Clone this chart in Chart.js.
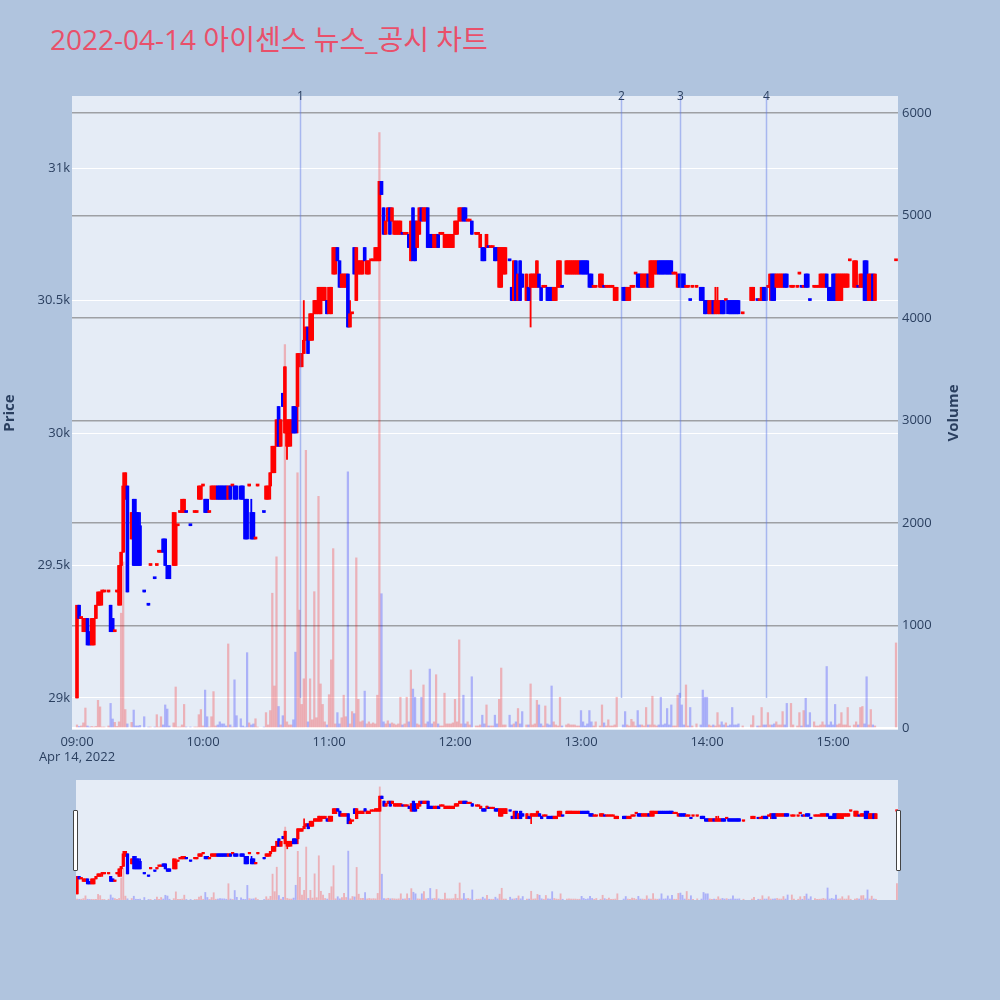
<!DOCTYPE html>
<html>
<head>
<meta charset="utf-8">
<script src="https://cdn.jsdelivr.net/npm/chart.js@4.4.1/dist/chart.umd.min.js"></script>
<style>
  body { margin: 0; background: #b0c4de; width: 1000px; height: 1000px; position: relative; overflow: hidden; }
  #title { position: absolute; left: 50px; top: 20px; font: 28px "Open Sans", "Noto Sans CJK KR", sans-serif; line-height: 38px; color: #e9506a; white-space: nowrap; }
  #main { position: absolute; left: 0; top: 0; }
  #slider { position: absolute; left: 76px; top: 780px; }
  .handle { position: absolute; top: 810px; width: 3px; height: 59px; background: #fff; border: 1px solid #444; border-radius: 1px; }
</style>
</head>
<body>
<div id="title">2022-04-14 아이센스 뉴스_공시 차트</div>
<canvas id="main" width="1000" height="775"></canvas>
<canvas id="slider" width="822" height="120"></canvas>
<div class="handle" style="left:73px"></div>
<div class="handle" style="left:896px"></div>
<script>
// minute candles: [time, open, high, low, close, volume]
const hour09 = [
  ['09:00',29000,29350,29000,29350,30], ['09:01',29350,29350,29300,29300,15], ['09:02',29300,29300,29300,29300,20],
  ['09:03',29250,29300,29250,29300,50], ['09:04',29250,29300,29250,29300,195], ['09:05',29300,29300,29200,29200,20],
  ['09:06',29250,29250,29200,29200,10], ['09:07',29200,29300,29200,29300,15], ['09:08',29200,29300,29200,29300,10],
  ['09:09',29300,29350,29300,29350,15], ['09:10',29350,29400,29350,29400,270], ['09:11',29350,29400,29350,29400,206],
  ['09:12',29400,29400,29350,29400,10], ['09:13',29400,29400,29400,29400,10], ['09:15',29400,29400,29400,29400,20],
  ['09:16',29350,29350,29250,29250,240], ['09:17',29300,29300,29250,29250,88], ['09:18',29250,29250,29250,29250,55],
  ['09:19',29400,29400,29400,29400,15], ['09:20',29350,29500,29350,29500,60], ['09:21',29500,29550,29350,29550,1120],
  ['09:22',29550,29850,29550,29800,1620], ['09:23',29750,29850,29750,29850,180], ['09:24',29800,29800,29400,29400,40],
  ['09:26',29600,29700,29600,29700,55], ['09:27',29750,29750,29500,29500,175], ['09:28',29700,29750,29500,29500,20],
  ['09:29',29700,29700,29500,29500,20], ['09:30',29650,29700,29500,29500,25], ['09:32',29400,29400,29400,29400,110],
  ['09:34',29350,29350,29350,29350,10], ['09:35',29500,29500,29500,29500,10], ['09:37',29450,29450,29450,29450,10],
  ['09:38',29500,29500,29500,29500,130], ['09:39',29550,29550,29550,29550,10], ['09:40',29550,29550,29550,29550,110],
  ['09:41',29600,29600,29550,29550,30], ['09:42',29600,29600,29500,29500,225], ['09:43',29500,29500,29450,29450,185],
  ['09:44',29500,29500,29450,29450,20], ['09:46',29500,29700,29500,29700,50], ['09:47',29500,29700,29500,29650,400],
  ['09:48',29650,29650,29650,29650,10], ['09:49',29700,29700,29700,29700,10], ['09:50',29700,29750,29700,29750,30],
  ['09:51',29700,29750,29700,29750,230], ['09:52',29700,29700,29700,29700,10], ['09:54',29650,29650,29650,29650,10],
  ['09:56',29700,29700,29700,29700,10], ['09:57',29700,29700,29700,29700,10], ['09:58',29750,29800,29750,29800,130],
  ['09:59',29750,29800,29750,29800,180]
];
const hour10 = [
  ['10:00',29800,29800,29800,29800,20], ['10:01',29750,29750,29700,29700,370], ['10:02',29750,29750,29700,29700,110],
  ['10:03',29700,29700,29700,29700,10], ['10:04',29750,29800,29750,29800,110], ['10:05',29750,29800,29750,29800,355],
  ['10:06',29750,29800,29750,29800,20], ['10:07',29800,29800,29750,29750,30], ['10:08',29800,29800,29750,29750,60],
  ['10:09',29800,29800,29750,29750,40], ['10:10',29800,29800,29750,29750,40], ['10:11',29800,29800,29750,29750,20],
  ['10:12',29750,29800,29750,29800,820], ['10:13',29800,29800,29750,29750,30], ['10:14',29800,29800,29800,29800,10],
  ['10:15',29800,29800,29750,29750,470], ['10:16',29800,29800,29750,29750,120], ['10:18',29800,29800,29750,29750,90],
  ['10:19',29800,29800,29750,29750,20], ['10:20',29750,29750,29600,29600,10], ['10:21',29750,29750,29600,29600,735],
  ['10:22',29800,29800,29800,29800,50], ['10:23',29700,29750,29600,29600,30], ['10:24',29700,29700,29600,29600,40],
  ['10:25',29600,29600,29600,29600,90], ['10:26',29800,29800,29800,29800,10], ['10:29',29700,29700,29700,29700,10],
  ['10:30',29750,29800,29750,29800,150], ['10:31',29750,29800,29750,29800,30], ['10:32',29800,29850,29750,29850,170],
  ['10:33',29850,29950,29850,29950,1315], ['10:34',29850,29950,29850,29950,410], ['10:35',29950,30050,29950,30050,1670],
  ['10:36',30100,30100,29950,29950,210], ['10:37',29950,30050,29950,30050,30], ['10:38',30150,30150,30100,30100,120],
  ['10:39',30000,30250,30000,30250,3740], ['10:40',29950,30050,29900,30050,60], ['10:41',29950,30050,29950,30050,30],
  ['10:42',30000,30050,29950,30050,30], ['10:43',30100,30100,30000,30000,80], ['10:44',30100,30100,30000,30000,740],
  ['10:45',30100,30300,30000,30300,2490], ['10:46',30250,30300,30250,30300,1150], ['10:47',30250,30300,30250,30300,230],
  ['10:48',30300,30500,30300,30350,480], ['10:49',30350,30400,30350,30400,2710], ['10:50',30400,30400,30300,30300,60],
  ['10:51',30350,30450,30350,30450,480], ['10:52',30350,30450,30350,30450,80], ['10:53',30450,30500,30450,30500,1330],
  ['10:54',30450,30500,30450,30500,100], ['10:55',30450,30550,30450,30550,2260], ['10:56',30450,30550,30450,30550,430],
  ['10:57',30500,30550,30500,30550,230], ['10:58',30500,30550,30500,30550,60], ['10:59',30500,30500,30450,30450,30]
];
const hour11 = [
  ['11:00',30450,30550,30450,30550,325], ['11:01',30450,30550,30450,30550,665], ['11:02',30600,30700,30600,30700,1750],
  ['11:03',30600,30700,30600,30700,40], ['11:04',30700,30700,30650,30650,150], ['11:05',30650,30650,30550,30550,40],
  ['11:06',30550,30600,30550,30600,100], ['11:07',30550,30600,30550,30600,320], ['11:08',30550,30600,30550,30600,110],
  ['11:09',30600,30600,30400,30400,2500], ['11:10',30400,30500,30400,30450,40], ['11:11',30450,30450,30450,30450,160],
  ['11:12',30700,30700,30600,30600,140], ['11:13',30500,30700,30500,30700,1660], ['11:14',30600,30650,30600,30650,280],
  ['11:15',30600,30650,30600,30650,60], ['11:16',30600,30650,30600,30650,70], ['11:17',30700,30700,30650,30650,360],
  ['11:18',30600,30650,30600,30650,40], ['11:19',30600,30650,30600,30650,60], ['11:20',30650,30650,30650,30650,40],
  ['11:21',30650,30650,30650,30650,50], ['11:22',30650,30700,30650,30700,40], ['11:23',30650,30700,30650,30700,320],
  ['11:24',30650,30950,30650,30950,5810], ['11:25',30950,30950,30900,30900,1310], ['11:26',30850,30850,30750,30750,60],
  ['11:27',30750,30800,30750,30800,40], ['11:28',30800,30850,30800,30850,70], ['11:29',30850,30850,30750,30750,40],
  ['11:30',30800,30850,30800,30850,50], ['11:31',30750,30800,30750,30800,40], ['11:32',30750,30800,30750,30800,30],
  ['11:33',30750,30800,30750,30800,40], ['11:34',30750,30800,30750,30800,300], ['11:35',30750,30750,30750,30750,30],
  ['11:36',30750,30750,30750,30750,40], ['11:37',30750,30750,30750,30750,300], ['11:38',30750,30750,30700,30700,60],
  ['11:39',30650,30800,30650,30800,566], ['11:40',30850,30850,30650,30650,380], ['11:41',30800,30800,30650,30650,300],
  ['11:42',30700,30800,30700,30800,40], ['11:43',30750,30850,30750,30850,30], ['11:44',30850,30850,30800,30800,300],
  ['11:45',30800,30850,30800,30850,420], ['11:46',30800,30850,30800,30850,40], ['11:47',30850,30850,30700,30700,60],
  ['11:48',30750,30750,30700,30700,575], ['11:49',30750,30750,30700,30700,40], ['11:50',30700,30750,30700,30750,60],
  ['11:51',30700,30750,30700,30750,520], ['11:52',30750,30750,30700,30700,40], ['11:53',30750,30750,30750,30750,20],
  ['11:54',30750,30750,30750,30750,20], ['11:55',30700,30750,30700,30750,340], ['11:56',30700,30750,30700,30750,40],
  ['11:57',30700,30750,30700,30750,40], ['11:58',30700,30750,30700,30750,40], ['11:59',30700,30750,30700,30750,50]
];
const hour12 = [
  ['12:00',30750,30800,30750,30800,280], ['12:01',30750,30800,30750,30800,60], ['12:02',30800,30850,30800,30850,860],
  ['12:03',30800,30850,30800,30850,40], ['12:04',30850,30850,30800,30800,320], ['12:05',30850,30850,30800,30800,40],
  ['12:06',30800,30800,30800,30800,60], ['12:07',30800,30800,30800,30800,30], ['12:08',30800,30800,30750,30750,500],
  ['12:10',30750,30750,30750,30750,20], ['12:11',30750,30750,30750,30750,20], ['12:12',30700,30750,30700,30750,30],
  ['12:13',30700,30700,30650,30650,125], ['12:14',30700,30700,30650,30650,40], ['12:15',30700,30750,30700,30750,225],
  ['12:16',30700,30700,30700,30700,20], ['12:17',30700,30700,30700,30700,20], ['12:18',30700,30700,30700,30700,20],
  ['12:19',30700,30700,30650,30650,125], ['12:20',30700,30700,30650,30650,40], ['12:21',30550,30700,30550,30700,280],
  ['12:22',30550,30700,30550,30700,585], ['12:23',30600,30700,30600,30700,30], ['12:24',30600,30700,30600,30700,30],
  ['12:26',30650,30650,30650,30650,125], ['12:27',30550,30550,30500,30500,30], ['12:28',30500,30650,30500,30650,40],
  ['12:29',30650,30650,30500,30500,60], ['12:30',30500,30600,30500,30600,190], ['12:31',30650,30650,30500,30500,40],
  ['12:32',30600,30600,30550,30550,160], ['12:34',30500,30600,30500,30600,30], ['12:35',30550,30550,30500,30500,30],
  ['12:36',30550,30600,30400,30600,430], ['12:37',30550,30600,30550,30600,30], ['12:38',30550,30600,30550,30600,40],
  ['12:39',30550,30650,30550,30650,270], ['12:40',30600,30600,30550,30550,225], ['12:41',30550,30550,30500,30500,40],
  ['12:42',30550,30550,30550,30550,20], ['12:43',30550,30550,30550,30550,215], ['12:44',30550,30550,30500,30500,40],
  ['12:45',30550,30550,30500,30500,30], ['12:46',30550,30550,30500,30500,410], ['12:47',30500,30550,30500,30550,60],
  ['12:48',30500,30550,30500,30550,30], ['12:49',30550,30650,30550,30650,20], ['12:50',30550,30650,30550,30650,300],
  ['12:51',30550,30550,30550,30550,20], ['12:53',30600,30650,30600,30650,30], ['12:54',30600,30650,30600,30650,40],
  ['12:55',30600,30650,30600,30650,30], ['12:56',30600,30650,30600,30650,30], ['12:57',30600,30650,30600,30650,30],
  ['12:58',30600,30650,30600,30650,20], ['12:59',30600,30650,30600,30650,20]
];
const hour13 = [
  ['13:00',30650,30650,30600,30600,170], ['13:01',30650,30650,30600,30600,60], ['13:02',30650,30650,30600,30600,20],
  ['13:03',30650,30650,30600,30600,40], ['13:04',30600,30600,30550,30550,170], ['13:05',30600,30600,30550,30550,60],
  ['13:06',30550,30550,30550,30550,20], ['13:07',30550,30550,30550,30550,60], ['13:09',30550,30600,30550,30600,20],
  ['13:10',30550,30600,30550,30600,225], ['13:11',30550,30550,30550,30550,50], ['13:12',30550,30550,30550,30550,20],
  ['13:13',30550,30550,30550,30550,80], ['13:14',30550,30550,30550,30550,20], ['13:15',30550,30550,30550,30550,20],
  ['13:16',30500,30550,30500,30550,30], ['13:17',30500,30550,30500,30550,300], ['13:20',30550,30550,30500,30500,30],
  ['13:21',30550,30550,30500,30500,160], ['13:22',30500,30550,30500,30550,30], ['13:23',30500,30550,30500,30550,20],
  ['13:24',30550,30550,30550,30550,85], ['13:25',30550,30550,30550,30550,60], ['13:26',30600,30600,30600,30600,20],
  ['13:27',30600,30600,30550,30550,170], ['13:28',30600,30600,30550,30550,30], ['13:29',30550,30600,30550,30600,30],
  ['13:30',30550,30600,30550,30600,20], ['13:31',30550,30600,30550,30600,200], ['13:32',30600,30600,30550,30550,30],
  ['13:33',30550,30650,30550,30650,30], ['13:34',30550,30650,30550,30650,310], ['13:35',30600,30650,30600,30650,30],
  ['13:36',30600,30650,30600,30650,20], ['13:37',30650,30650,30600,30600,30], ['13:38',30650,30650,30600,30600,300],
  ['13:39',30650,30650,30600,30600,30], ['13:40',30650,30650,30600,30600,40], ['13:41',30650,30650,30600,30600,190],
  ['13:42',30650,30650,30600,30600,30], ['13:43',30650,30650,30600,30600,225], ['13:44',30600,30600,30600,30600,20],
  ['13:45',30600,30600,30600,30600,20], ['13:46',30550,30600,30550,30600,320], ['13:47',30600,30600,30550,30550,340],
  ['13:48',30600,30600,30550,30550,225], ['13:49',30600,30600,30550,30550,30], ['13:50',30550,30550,30550,30550,420],
  ['13:51',30550,30550,30550,30550,20], ['13:52',30500,30500,30500,30500,200], ['13:53',30550,30550,30550,30550,20],
  ['13:55',30550,30550,30550,30550,40], ['13:57',30550,30550,30500,30500,30], ['13:58',30550,30550,30500,30500,370],
  ['13:59',30500,30500,30450,30450,300]
];
const hour14 = [
  ['14:00',30500,30500,30450,30450,300], ['14:01',30450,30500,30450,30500,30], ['14:02',30450,30500,30450,30500,20],
  ['14:03',30500,30500,30450,30450,30], ['14:04',30450,30550,30450,30500,20], ['14:05',30450,30550,30450,30500,150],
  ['14:06',30450,30500,30450,30500,30], ['14:07',30500,30500,30450,30450,60], ['14:08',30500,30500,30450,30450,30],
  ['14:09',30500,30500,30500,30500,50], ['14:10',30500,30500,30450,30450,20], ['14:11',30500,30500,30450,30450,30],
  ['14:12',30500,30500,30450,30450,200], ['14:13',30500,30500,30450,30450,30], ['14:14',30500,30500,30450,30450,30],
  ['14:15',30500,30500,30450,30450,40], ['14:17',30450,30450,30450,30450,20], ['14:21',30500,30550,30500,30550,30],
  ['14:22',30500,30550,30500,30550,120], ['14:24',30500,30500,30500,30500,20], ['14:25',30500,30500,30500,30500,20],
  ['14:26',30500,30550,30500,30550,200], ['14:27',30550,30550,30500,30500,30], ['14:28',30550,30550,30500,30500,30],
  ['14:29',30550,30550,30550,30550,150], ['14:30',30550,30600,30500,30600,30], ['14:31',30600,30600,30500,30500,30],
  ['14:32',30600,30600,30500,30500,40], ['14:33',30550,30600,30550,30600,60], ['14:34',30550,30600,30550,30600,30],
  ['14:35',30550,30600,30550,30600,30], ['14:36',30550,30600,30550,30600,160], ['14:37',30600,30600,30550,30550,30],
  ['14:38',30600,30600,30550,30550,240], ['14:40',30550,30550,30550,30550,240], ['14:41',30550,30550,30550,30550,30],
  ['14:43',30550,30550,30550,30550,20], ['14:44',30600,30600,30600,30600,150], ['14:45',30550,30550,30550,30550,20],
  ['14:46',30550,30550,30550,30550,170], ['14:47',30600,30600,30550,30550,290], ['14:48',30600,30600,30550,30550,30],
  ['14:49',30500,30500,30500,30500,150], ['14:51',30550,30550,30550,30550,60], ['14:52',30550,30550,30550,30550,20],
  ['14:53',30550,30550,30550,30550,20], ['14:54',30550,30600,30550,30600,30], ['14:55',30550,30600,30550,30600,60],
  ['14:56',30550,30600,30550,30600,30], ['14:57',30600,30600,30550,30550,600], ['14:58',30550,30550,30500,30500,30],
  ['14:59',30550,30550,30500,30500,60]
];
const hour15 = [
  ['15:00',30600,30600,30500,30500,30], ['15:01',30600,30600,30500,30500,230], ['15:02',30500,30600,30500,30600,30],
  ['15:03',30500,30600,30500,30600,40], ['15:04',30500,30600,30500,30600,150], ['15:05',30550,30600,30550,30600,30],
  ['15:06',30550,30600,30550,30600,30], ['15:07',30550,30600,30550,30600,200], ['15:08',30650,30650,30650,30650,20],
  ['15:10',30550,30650,30550,30650,30], ['15:11',30550,30650,30550,30650,60], ['15:12',30550,30550,30550,30550,30],
  ['15:13',30550,30600,30550,30600,200], ['15:14',30550,30600,30550,30600,210], ['15:15',30650,30650,30500,30500,40],
  ['15:16',30650,30650,30500,30500,500], ['15:17',30500,30600,30500,30600,30], ['15:18',30500,30600,30500,30600,180],
  ['15:19',30600,30600,30500,30500,30], ['15:20',30500,30600,30500,30600,20], ['15:30',30650,30650,30650,30650,830]
];

// news markers
const newsTimes = ['10:46', '13:19', '13:47', '14:28'];
const newsLabels = ['1', '2', '3', '4'];
const newsFloor = 29000;

// axis ticks
const timeTicks = ['09:00', '10:00', '11:00', '12:00', '13:00', '14:00', '15:00'];
const dateLabel = 'Apr 14, 2022';
const priceTicks = [29000, 29500, 30000, 30500, 31000];
const volumeTicks = [0, 1000, 2000, 3000, 4000, 5000, 6000];

const UP = '#ff0000', DOWN = '#0000ff';
const UP_VOL = 'rgba(255,0,0,0.25)', DOWN_VOL = 'rgba(0,0,255,0.25)';
const TXT = '#2a3f5f';
const FONT = '"Open Sans", "Noto Sans", sans-serif';

const rows = [...hour09, ...hour10, ...hour11, ...hour12, ...hour13, ...hour14, ...hour15];
const toMin = t => { const p = t.split(':').map(Number); return (p[0] - 9) * 60 + p[1]; };

let prevClose = rows[0][1];
const ups = rows.map(r => {
  const o = r[1], c = r[4];
  const up = c > o ? true : c < o ? false : c >= prevClose;
  prevClose = c;
  return up;
});

function buildDatasets(bodyW, wickW, volW, minLen) {
  return [
    {
      label: 'body', order: 1, grouped: false, barThickness: bodyW, minBarLength: minLen,
      data: rows.map(r => ({ x: toMin(r[0]), y: [r[1], r[4]] })),
      backgroundColor: ups.map(u => u ? UP : DOWN), yAxisID: 'y'
    },
    {
      label: 'wick', order: 2, grouped: false, barThickness: wickW,
      data: rows.map(r => ({ x: toMin(r[0]), y: [r[3], r[2]] })),
      backgroundColor: ups.map(u => u ? UP : DOWN), yAxisID: 'y'
    },
    {
      label: 'volume', order: 3, grouped: false, barThickness: volW,
      data: rows.map(r => ({ x: toMin(r[0]), y: r[5] })),
      backgroundColor: ups.map(u => u ? UP_VOL : DOWN_VOL), yAxisID: 'y1'
    }
  ];
}

const plotBg = {
  id: 'plotBg',
  beforeDraw(chart) {
    const a = chart.chartArea, ctx = chart.ctx;
    ctx.save();
    ctx.fillStyle = '#e5ecf6';
    ctx.fillRect(a.left, a.top, a.right - a.left, a.bottom - a.top);
    ctx.restore();
  }
};

const newsLines = {
  id: 'newsLines',
  afterDatasetsDraw(chart) {
    const ctx = chart.ctx, xs = chart.scales.x, ys = chart.scales.y, top = chart.chartArea.top;
    ctx.save();
    newsTimes.forEach((t, i) => {
      const x = Math.round(xs.getPixelForValue(toMin(t))) + 0.5;
      ctx.strokeStyle = 'rgba(90,120,230,0.45)';
      ctx.lineWidth = 1.5;
      ctx.beginPath();
      ctx.moveTo(x, top);
      ctx.lineTo(x, ys.getPixelForValue(newsFloor));
      ctx.stroke();
      ctx.fillStyle = TXT;
      ctx.font = '12px ' + FONT;
      ctx.textAlign = 'center';
      ctx.textBaseline = 'middle';
      ctx.fillText(newsLabels[i], x, top + 1);
    });
    ctx.restore();
  }
};

// right axis title, reading upward like the left one
const volumeTitle = {
  id: 'volumeTitle',
  afterDraw(chart) {
    const ctx = chart.ctx, a = chart.chartArea;
    ctx.save();
    ctx.translate(954, (a.top + a.bottom) / 2);
    ctx.rotate(-Math.PI / 2);
    ctx.fillStyle = TXT;
    ctx.font = 'bold 15px ' + FONT;
    ctx.textAlign = 'center';
    ctx.textBaseline = 'middle';
    ctx.fillText('Volume', 0, 0);
    ctx.restore();
  }
};

Chart.defaults.font.family = FONT;
Chart.defaults.color = TXT;

new Chart(document.getElementById('main'), {
  type: 'bar',
  data: { datasets: buildDatasets(3, 1.2, 1.6, 2) },
  options: {
    responsive: false,
    animation: false,
    layout: { padding: { top: 96, right: 35, left: 0, bottom: 0 } },
    plugins: { legend: { display: false }, tooltip: { enabled: false } },
    scales: {
      x: {
        type: 'linear', offset: false, min: -2.38, max: 390.95,
        grid: { display: false, drawTicks: false },
        border: { display: false },
        afterBuildTicks(scale) { scale.ticks = timeTicks.map(t => ({ value: toMin(t) })); },
        afterFit(scale) { scale.height = 45; },
        ticks: {
          autoSkip: false, maxRotation: 0, padding: 4, color: TXT, font: { size: 13 },
          callback(v) {
            const label = timeTicks[Math.round(v / 60)];
            return v === 0 ? [label, dateLabel] : label;
          }
        }
      },
      y: {
        position: 'left', min: 28879, max: 31272,
        grid: { color: '#ffffff', lineWidth: 1, drawTicks: false },
        border: { display: false },
        afterBuildTicks(scale) { scale.ticks = priceTicks.map(v => ({ value: v })); },
        afterFit(scale) { scale.width = 72; },
        ticks: { padding: 2, color: TXT, font: { size: 13 }, callback: v => (v / 1000) + 'k' },
        title: { display: true, text: 'Price', color: TXT, font: { size: 15, weight: 'bold' }, padding: { top: 1, bottom: 0 } }
      },
      y1: {
        position: 'right', min: -19.5, max: 6166,
        grid: {
          drawTicks: false,
          color: c => c.tick && c.tick.value === 0 ? '#ffffff' : 'rgba(110,110,110,0.6)',
          lineWidth: c => c.tick && c.tick.value === 0 ? 2 : 1.4
        },
        border: { display: false },
        afterBuildTicks(scale) { scale.ticks = volumeTicks.map(v => ({ value: v })); },
        afterFit(scale) { scale.width = 67; },
        ticks: { padding: 4, color: TXT, font: { size: 13 }, callback: v => String(v) }
      }
    }
  },
  plugins: [plotBg, newsLines, volumeTitle]
});

// range slider preview
new Chart(document.getElementById('slider'), {
  type: 'bar',
  data: { datasets: buildDatasets(2.6, 1, 1.2, 1.5) },
  options: {
    responsive: false,
    animation: false,
    layout: { padding: 0 },
    plugins: { legend: { display: false }, tooltip: { enabled: false } },
    scales: {
      x: { type: 'linear', offset: false, display: false, min: -0.5, max: 390.5 },
      y: { display: false, min: 28879, max: 31272 },
      y1: { display: false, min: -19.5, max: 6166 }
    }
  },
  plugins: [plotBg]
});
</script>
</body>
</html>
